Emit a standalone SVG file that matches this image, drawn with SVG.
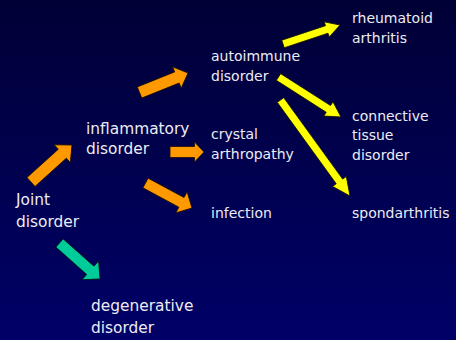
<svg xmlns="http://www.w3.org/2000/svg" width="456" height="340" viewBox="0 0 456 340">
<defs>
<linearGradient id="bg" x1="0" y1="0" x2="0" y2="1">
<stop offset="0" stop-color="#000036"/>
<stop offset="1" stop-color="#000068"/>
</linearGradient>
</defs>
<style>
text{font-family:"DejaVu Sans","Liberation Sans",sans-serif;font-size:14px;fill:#ECECF2}
.big text{font-size:15.4px}
.o{fill:#FF9900;stroke:#1a1000;stroke-width:0.8}
.g{fill:#00CC99;stroke:#00140e;stroke-width:0.8}
.y{fill:#FFFF00;stroke:#141400;stroke-width:0.8}
</style>
<rect width="456" height="340" fill="url(#bg)"/>
<g id="connectors">
<path class="o" transform="translate(31,182) rotate(-42.1)" d="M0,-6H42.2V-12L55.2,0L42.2,12V6H0Z"/>
<path class="o" transform="translate(139.5,92.5) rotate(-21.9)" d="M0,-6H40.3V-11.5L52.3,0L40.3,11.5V6H0Z"/>
<path class="o" transform="translate(170,152) rotate(0)" d="M0,-5.5H24.5V-10L34,0L24.5,10V5.5H0Z"/>
<path class="o" transform="translate(145.5,183) rotate(28.3)" d="M0,-5.5H40.8V-12L52.8,0L40.8,12V5.5H0Z"/>
<path class="g" transform="translate(59.5,243) rotate(41.6)" d="M0,-5.5H41.2V-12.5L54.2,0L41.2,12.5V5.5H0Z"/>
<path class="y" transform="translate(283,44) rotate(-18.4)" d="M0,-4H46.1V-8L60.1,0L46.1,8V4H0Z"/>
<path class="y" transform="translate(278.5,77) rotate(32.6)" d="M0,-4H59.2V-8.5L74.2,0L59.2,8.5V4H0Z"/>
<path class="y" transform="translate(280.5,100) rotate(54.1)" d="M0,-4H100.5V-8.5L118.5,0L100.5,8.5V4H0Z"/>
</g>
<g id="joint" class="big"><text x="16" y="205">Joint</text><text x="16" y="227">disorder</text></g>
<g id="inflammatory" class="big"><text x="86" y="134">inflammatory</text><text x="86" y="154">disorder</text></g>
<g id="degenerative" class="big"><text x="91" y="311">degenerative</text><text x="91" y="333">disorder</text></g>
<g id="autoimmune"><text x="211" y="61">autoimmune</text><text x="211" y="81">disorder</text></g>
<g id="crystal"><text x="211" y="139">crystal</text><text x="211" y="159">arthropathy</text></g>
<g id="infection"><text x="211" y="218">infection</text></g>
<g id="rheumatoid"><text x="352" y="23">rheumatoid</text><text x="352" y="43">arthritis</text></g>
<g id="connective"><text x="352" y="121">connective</text><text x="352" y="140">tissue</text><text x="352" y="160">disorder</text></g>
<g id="spondarthritis"><text x="352" y="218">spondarthritis</text></g>
</svg>
